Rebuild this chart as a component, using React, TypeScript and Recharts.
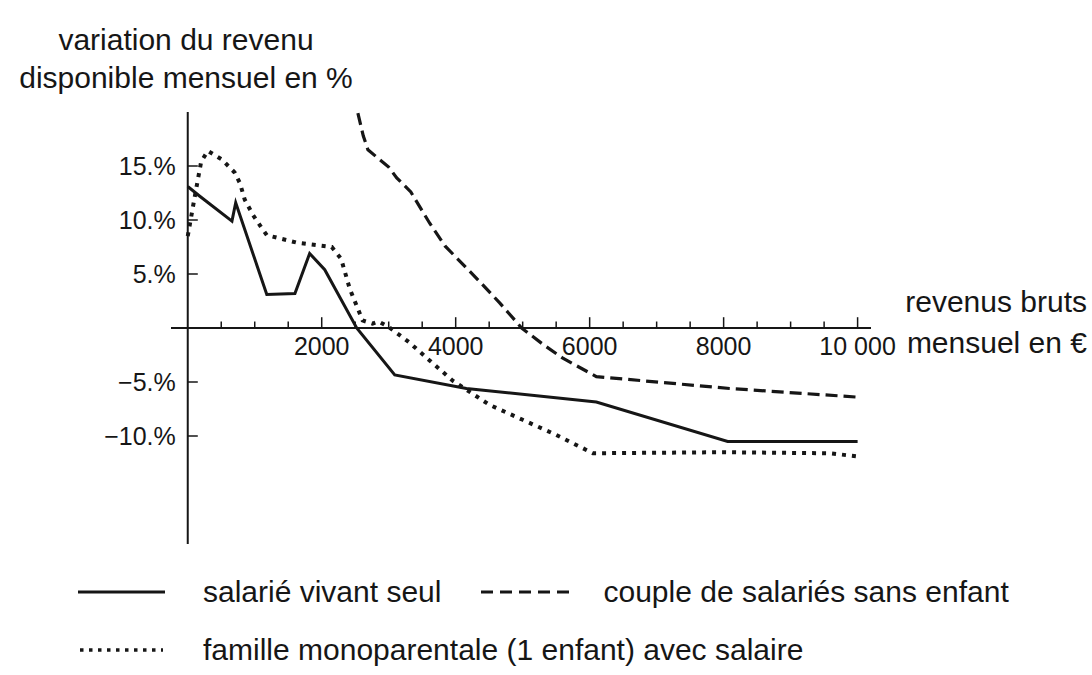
import React from "react";
import { LineChart, Line, XAxis, YAxis, ReferenceLine, ReferenceDot } from "recharts";

// salarié vivant seul
const seulRevenu = [0, 180, 660, 716, 1180, 1600, 1820, 2045, 2522, 3090, 4160, 6100, 8060, 10000];
const seulVariation = [13.1, 12.2, 9.9, 11.6, 3.1, 3.2, 6.9, 5.4, 0, -4.35, -5.6, -6.85, -10.5, -10.5];

// couple de salariés sans enfant
const coupleRevenu = [2540, 2620, 2690, 3000, 3120, 3330, 3612, 3840, 4358, 4660, 4985, 5300, 5600, 6100, 8090, 10000];
const coupleVariation = [19.9, 17.8, 16.5, 14.9, 13.9, 12.6, 9.7, 7.6, 4.3, 2.3, 0, -1.5, -2.8, -4.5, -5.6, -6.4];

// famille monoparentale (1 enfant) avec salaire
const familleRevenu = [0, 100, 200, 300, 510, 700, 780, 850, 970, 1100, 1180, 1630, 2150, 2290, 2420, 2610, 2760, 2850, 3000, 3300, 3610, 3960, 4500, 5000, 5500, 6050, 8000, 9600, 10000];
const familleVariation = [8.5, 12.0, 15.4, 16.4, 15.6, 14.4, 13.4, 11.9, 10.5, 9.3, 8.6, 7.9, 7.5, 6.4, 3.6, 0.7, 0.4, 0.6, 0.1, -1.3, -3.0, -4.9, -7.1, -8.5, -9.9, -11.6, -11.5, -11.6, -11.9];

const xMajorTicks = [2000, 4000, 6000, 8000, 10000];
const xTickLabels = ["2000", "4000", "6000", "8000", "10 000"];
const xMinorTicks = [500, 1000, 1500, 2500, 3000, 3500, 4500, 5000, 5500, 6500, 7000, 7500, 8500, 9000, 9500];
const yTicks = [15, 10, 5, -5, -10];
const yTickLabels = ["15.%", "10.%", "5.%", "−5.%", "−10.%"];

const toPoints = (xs: number[], ys: number[]) => xs.map((x, i) => ({ x, y: ys[i] }));

const seulData = toPoints(seulRevenu, seulVariation);
const coupleData = toPoints(coupleRevenu, coupleVariation);
const familleData = toPoints(familleRevenu, familleVariation);

const INK = "#161616";
const FONT = "'Liberation Sans', Arial, Helvetica, sans-serif";

const App: React.FC = () => {
  return (
    <div
      style={{
        position: "absolute",
        left: 0,
        top: 0,
        width: 1092,
        height: 675,
        background: "#fff",
        fontFamily: FONT,
        color: INK,
      }}
    >
      <LineChart
        width={1092}
        height={675}
        margin={{ top: 112, right: 221, bottom: 131, left: 171 }}
      >
        <XAxis dataKey="x" type="number" domain={[-250, 10200]} hide />
        <YAxis type="number" domain={[-20, 20]} hide />

        <ReferenceLine y={0} stroke={INK} strokeWidth={2} />
        <ReferenceLine x={0} stroke={INK} strokeWidth={2} />

        {xMinorTicks.map((v) => (
          <ReferenceLine
            key={"mx" + v}
            segment={[{ x: v, y: 0 }, { x: v, y: 0.6 }]}
            stroke={INK}
            strokeWidth={1.5}
          />
        ))}
        {xMajorTicks.map((v) => (
          <ReferenceLine
            key={"x" + v}
            segment={[{ x: v, y: 0 }, { x: v, y: 1.0 }]}
            stroke={INK}
            strokeWidth={1.5}
          />
        ))}
        {xMajorTicks.map((v, i) => (
          <ReferenceDot
            key={"xl" + v}
            x={v}
            y={0}
            r={0}
            stroke="none"
            label={{
              value: xTickLabels[i],
              position: "bottom",
              offset: 9,
              fill: INK,
              fontSize: 25,
              fontFamily: FONT,
            }}
          />
        ))}
        {yTicks.map((v) => (
          <ReferenceLine
            key={"y" + v}
            segment={[{ x: 0, y: v }, { x: 150, y: v }]}
            stroke={INK}
            strokeWidth={1.5}
          />
        ))}
        {yTicks.map((v, i) => (
          <ReferenceDot
            key={"yl" + v}
            x={0}
            y={v}
            r={0}
            stroke="none"
            label={{
              value: yTickLabels[i],
              position: "left",
              offset: 12,
              fill: INK,
              fontSize: 25,
              fontFamily: FONT,
            }}
          />
        ))}

        <Line
          data={seulData}
          dataKey="y"
          type="linear"
          stroke={INK}
          strokeWidth={3}
          dot={false}
          isAnimationActive={false}
        />
        <Line
          data={coupleData}
          dataKey="y"
          type="linear"
          stroke={INK}
          strokeWidth={3.2}
          strokeDasharray="12 6"
          dot={false}
          isAnimationActive={false}
        />
        <Line
          data={familleData}
          dataKey="y"
          type="linear"
          stroke={INK}
          strokeWidth={4}
          strokeDasharray="4 6"
          dot={false}
          isAnimationActive={false}
        />
      </LineChart>

      {/* axis titles */}
      <div
        style={{
          position: "absolute",
          left: 0,
          top: 21,
          width: 372,
          textAlign: "center",
          fontSize: 30,
          lineHeight: "38px",
          whiteSpace: "nowrap",
        }}
      >
        variation du revenu
        <br />
        disponible mensuel en %
      </div>
      <div
        style={{
          position: "absolute",
          right: 5,
          top: 281,
          textAlign: "right",
          fontSize: 30,
          lineHeight: "41px",
          whiteSpace: "nowrap",
        }}
      >
        revenus bruts
        <br />
        mensuel en €
      </div>

      {/* legend */}
      <div style={{ position: "absolute", left: 0, top: 572, fontSize: 30, whiteSpace: "nowrap" }}>
        <div style={{ display: "flex", alignItems: "center", height: 40 }}>
          <svg width={170} height={10} style={{ flex: "none" }}>
            <line x1={78} y1={5} x2={165} y2={5} stroke={INK} strokeWidth={3} />
          </svg>
          <span style={{ marginLeft: 33 }}>salarié vivant seul</span>
          <svg width={162} height={10} style={{ flex: "none" }}>
            <line x1={40} y1={5} x2={130} y2={5} stroke={INK} strokeWidth={3} strokeDasharray="12 7" />
          </svg>
          <span>couple de salariés sans enfant</span>
        </div>
        <div style={{ display: "flex", alignItems: "center", height: 40, marginTop: 18 }}>
          <svg width={170} height={10} style={{ flex: "none" }}>
            <line x1={80} y1={5} x2={163} y2={5} stroke={INK} strokeWidth={3.5} strokeDasharray="3.5 5.5" />
          </svg>
          <span style={{ marginLeft: 33 }}>famille monoparentale (1 enfant) avec salaire</span>
        </div>
      </div>
    </div>
  );
};

export default App;
